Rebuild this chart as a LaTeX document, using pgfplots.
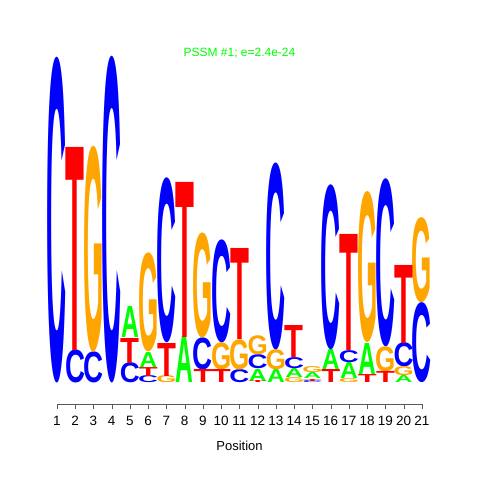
\documentclass[border=0pt]{standalone}
\usepackage{graphicx}
\usepackage{fontspec}
\setmainfont{Liberation Sans}
\usepackage{pgfplots}
\usepackage{pgfplotstable}
\pgfplotsset{compat=1.18}
\definecolor{cA}{RGB}{0,255,0}
\definecolor{cC}{RGB}{0,0,255}
\definecolor{cG}{RGB}{255,165,0}
\definecolor{cT}{RGB}{255,0,0}
\newdimen\logounit \logounit=162.5pt
% x = position, y0 = bottom of letter (bits), h = letter height (bits)
\pgfplotstableread{
x y0 h
5 0.277 0.191
6 0.098 0.092
8 0 0.283
12 0.012 0.074
13 0 0.080
14 0.031 0.055
15 0.025 0.037
16 0.080 0.123
17 0.025 0.098
18 0.049 0.197
20 0 0.043
}\tabA
\pgfplotstableread{
x y0 h
1 0 2.000
2 0 0.203
3 0 0.191
4 0 2.006
5 0 0.123
6 0 0.043
7 0.246 1.015
9 0.080 0.197
10 0.246 0.634
11 0 0.080
12 0.086 0.086
13 0.203 1.151
14 0.086 0.068
15 0 0.012
16 0.203 1.015
17 0.123 0.074
19 0.222 1.034
20 0.098 0.148
21 0 0.492
}\tabC
\pgfplotstableread{
x y0 h
3 0.191 1.268
6 0.191 0.609
7 0 0.043
9 0.277 0.646
10 0.080 0.166
11 0.080 0.185
12 0.172 0.117
13 0.080 0.123
14 0 0.031
15 0.062 0.037
17 0 0.025
18 0.246 0.929
19 0.068 0.154
20 0.043 0.055
21 0.492 0.523
}\tabG
\pgfplotstableread{
x y0 h
2 0.203 1.249
5 0.123 0.154
6 0.043 0.055
7 0.043 0.203
8 0.283 0.954
9 0 0.080
10 0 0.080
11 0.265 0.560
12 0 0.012
14 0.154 0.197
15 0.012 0.012
16 0 0.080
17 0.197 0.714
18 0 0.049
19 0 0.068
20 0.246 0.480
}\tabT
\newcommand{\logoletter}[3]{\resizebox*{#2}{\pgfplotspointmeta\logounit}{\color{#3}\bfseries #1}}
\begin{document}
\begin{tikzpicture}
\begin{axis}[
  x=18.25pt, y=162.5pt,
  xmin=1, xmax=21, ymin=-0.129, ymax=2.0,
  clip=false,
  axis x line*=bottom, axis y line=none,
  x axis line style={black!65},
  xtick={1,...,21},
  tick align=outside,
  major tick length=5pt,
  xtick style={black!65},
  tick label style={font=\fontsize{13.5}{15}\selectfont, yshift=-4pt},
  /pgf/number format/assume math mode=true,
  xlabel={Position},
  xlabel style={font=\fontsize{13}{15}\selectfont, yshift=-8pt},
  title={PSSM \#1; e=2.4e-24},
  title style={at={(axis cs:11,2.037)}, anchor=center, font=\fontsize{12}{14}\selectfont, text=cA, yshift=-7pt},
  every node near coord/.append style={anchor=south, inner sep=0pt, outer sep=0pt},
]
\addplot[draw=none, mark=none, forget plot, point meta=explicit symbolic,
  nodes near coords={\logoletter{A}{17.8pt}{cA}}] table[x=x, y=y0, meta=h] {\tabA};
\addplot[draw=none, mark=none, forget plot, point meta=explicit symbolic,
  nodes near coords={\logoletter{C}{20pt}{cC}}] table[x=x, y=y0, meta=h] {\tabC};
\addplot[draw=none, mark=none, forget plot, point meta=explicit symbolic,
  nodes near coords={\logoletter{G}{20.2pt}{cG}}] table[x=x, y=y0, meta=h] {\tabG};
\addplot[draw=none, mark=none, forget plot, point meta=explicit symbolic,
  nodes near coords={\logoletter{T}{18.9pt}{cT}}] table[x=x, y=y0, meta=h] {\tabT};
\coordinate (bl) at (axis cs:-2.123,-0.597);
\coordinate (tr) at (axis cs:24.178,2.357);
\end{axis}
\pgfresetboundingbox
\path[use as bounding box] (bl) rectangle (tr);
\end{tikzpicture}
\end{document}
